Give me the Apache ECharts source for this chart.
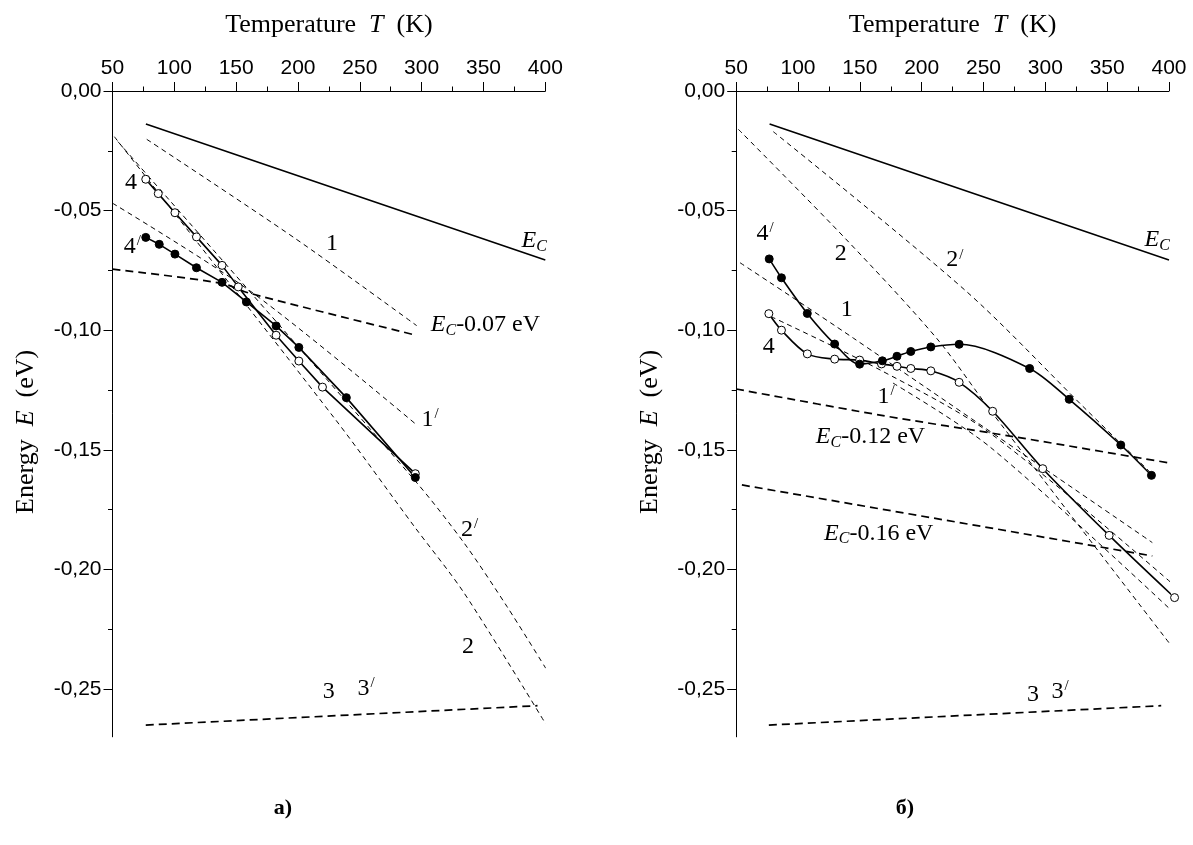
<!DOCTYPE html>
<html>
<head>
<meta charset="utf-8">
<script src="https://cdn.jsdelivr.net/npm/echarts@6.0.0/dist/echarts.min.js"></script>
<style>
html, body { margin: 0; padding: 0; background: #fff; }
#chart { width: 1193px; height: 845px; }
</style>
</head>
<body>
<div id="chart"></div>
<script>
// conduction band edge, same in both panels
const ecLine = [[77, -0.0138], [400, -0.0707]]

// panel a)
const leftOpen4 = [[76.9, -0.0369], [87.0, -0.0429], [100.5, -0.0509], [117.9, -0.0610], [138.6, -0.0729],
    [151.7, -0.0819], [182.3, -0.1021], [200.7, -0.1129], [219.8, -0.1238], [294.9, -0.1600]]
const leftFilled4 = [[76.9, -0.0612], [87.8, -0.0641], [100.5, -0.0682], [117.9, -0.0739], [138.6, -0.0800],
    [158.3, -0.0882], [182.3, -0.0982], [200.7, -0.1072], [239.1, -0.1282], [294.9, -0.1616]]
const leftLine1 = [[77.7, -0.0202], [197.6, -0.0616], [296, -0.0981]]
const leftLine1p = [[50, -0.0469], [163.9, -0.0846], [296, -0.1396]]
const leftLine2 = [[51.5, -0.0191], [230.5, -0.1375], [294.1, -0.1821], [334.5, -0.2100], [400.3, -0.2646]]
const leftLine2p = [[54.4, -0.0212], [294.1, -0.1626], [334.5, -0.1891], [369.1, -0.2156], [400.3, -0.2413]]
const leftLine3 = [[76.9, -0.2651], [393.7, -0.2570]]
const leftEc007 = [[50, -0.0745], [138.1, -0.0804], [161.2, -0.0846], [295.4, -0.1021]]

// panel б)
const rightFilled4 = [[76.7, -0.0702], [86.6, -0.0781], [107.5, -0.0930], [129.6, -0.1058], [149.8, -0.1142],
    [168.2, -0.1128], [180.0, -0.1109], [191.2, -0.1089], [207.4, -0.1070], [230.3, -0.1059],
    [287.3, -0.1160], [319.3, -0.1289], [361.0, -0.1480], [385.8, -0.1607]]
const rightOpen4 = [[76.4, -0.0931], [86.6, -0.1000], [107.5, -0.1099], [129.6, -0.1121], [149.8, -0.1125],
    [167.5, -0.1141], [180.0, -0.1151], [191.2, -0.1160], [207.4, -0.1170], [230.3, -0.1218],
    [257.4, -0.1339], [297.9, -0.1579], [351.6, -0.1858], [404.5, -0.2118]]
const rightLine1 = [[53.1, -0.0718], [144.7, -0.1033], [386.5, -0.1888]]
const rightLine1p = [[78.1, -0.0943], [166.3, -0.1166], [255.2, -0.1430], [404.5, -0.2068]]
const rightLineX = [[176.8, -0.1221], [255.2, -0.1488], [404.5, -0.2184]]
const rightLine2 = [[51.7, -0.0160], [139.4, -0.0623], [212.1, -0.1034], [255.2, -0.1333], [404.5, -0.2337]]
const rightLine2p = [[80.0, -0.0170], [236.4, -0.0839], [333.4, -0.1334], [384.6, -0.1593]]
const rightLine3 = [[76.4, -0.2651], [393.7, -0.2570]]
const rightEc012 = [[50, -0.1246], [166.3, -0.1355], [274.1, -0.1445], [404.5, -0.1559]]
const rightEc016 = [[54.6, -0.1647], [386.5, -0.1944]]

// axis ticks
const energyTicks = [0, -0.05, -0.10, -0.15, -0.20, -0.25]
const energyMinor = [-0.025, -0.075, -0.125, -0.175, -0.225]

// curve labels: T, E, text
const leftLabels = [
    [65.0, -0.0385, '{n|4}'],
    [66.0, -0.0651, '{n|4}{p|/}'],
    [227.5, -0.0637, '{n|1}'],
    [351.6, -0.0978, '{i|E}{s|C}{n|-0.07 eV}'],
    [306.8, -0.1375, '{n|1}{p|/}'],
    [391.0, -0.0627, '{i|E}{s|C}'],
    [338.8, -0.1835, '{n|2}{p|/}'],
    [337.4, -0.2323, '{n|2}'],
    [224.8, -0.2511, '{n|3}'],
    [255.0, -0.2497, '{n|3}{p|/}'],
]
const rightLabels = [
    [73.3, -0.0595, '{n|4}{p|/}'],
    [134.5, -0.0679, '{n|2}'],
    [226.9, -0.0707, '{n|2}{p|/}'],
    [139.4, -0.0915, '{n|1}'],
    [76.4, -0.1069, '{n|4}'],
    [171.3, -0.1278, '{n|1}{p|/}'],
    [158.6, -0.1445, '{i|E}{s|C}{n|-0.12 eV}'],
    [165.3, -0.1849, '{i|E}{s|C}{n|-0.16 eV}'],
    [290.0, -0.2525, '{n|3}'],
    [311.9, -0.2512, '{n|3}{p|/}'],
    [390.5, -0.0623, '{i|E}{s|C}'],
]

const serif = '"Liberation Serif", "Times New Roman", serif'
const sans = '"Liberation Sans", Arial, sans-serif'
const black = '#000'

const gridA = { left: 112.5, top: 91, width: 432.8, height: 645.8 }
const gridB = { left: 736.2, top: 91, width: 432.8, height: 645.8 }

const plain = { color: black, textBorderWidth: 0, textShadowBlur: 0 }
const rich = {
    n: Object.assign({ fontFamily: serif, fontSize: 24 }, plain),
    i: Object.assign({ fontFamily: serif, fontSize: 24, fontStyle: 'italic' }, plain),
    s: Object.assign({ fontFamily: serif, fontSize: 16, fontStyle: 'italic', padding: [12, 0, 0, 0] }, plain),
    p: Object.assign({ fontFamily: serif, fontSize: 15, padding: [0, 0, 11, 1] }, plain),
}

const dash = {
    solid: { width: 1.6, type: 'solid' },
    thin: { width: 1, type: [5, 4] },
    thick: { width: 1.7, type: [8, 5] },
}

const tempAxis = function (grid, visible) {
    return {
        type: 'value', gridIndex: grid, position: 'top', show: visible,
        min: 50, max: 400, interval: 50,
        name: visible ? '{t|Temperature  }{it|T}{t|  (K)}' : '',
        nameLocation: 'middle', nameGap: 53,
        nameTextStyle: {
            rich: {
                t: { fontFamily: serif, fontSize: 26, color: black },
                it: { fontFamily: serif, fontSize: 26, fontStyle: 'italic', color: black },
            }
        },
        axisLine: { show: true, onZero: false, lineStyle: { color: black, width: 1 } },
        axisTick: { show: true, inside: false, length: 9, lineStyle: { color: black } },
        minorTick: { show: true, splitNumber: 2, length: 4.5, lineStyle: { color: black } },
        axisLabel: { fontFamily: sans, fontSize: 21, color: black, margin: 12 },
        splitLine: { show: false },
        minorSplitLine: { show: false },
    }
}

const energyAxis = function (grid) {
    return {
        type: 'value', gridIndex: grid, position: 'left',
        min: -0.27, max: 0,
        name: '{t|Energy  }{it|E}{t|  (eV)}',
        nameLocation: 'middle', nameGap: 73,
        nameTextStyle: {
            padding: [0, 36, 0, 0],
            rich: {
                t: { fontFamily: serif, fontSize: 26, color: black },
                it: { fontFamily: serif, fontSize: 26, fontStyle: 'italic', color: black },
            }
        },
        axisLine: { show: true, onZero: false, lineStyle: { color: black, width: 1 } },
        axisTick: { show: true, length: 9, customValues: energyTicks, lineStyle: { color: black } },
        axisLabel: {
            customValues: energyTicks, fontFamily: sans, fontSize: 21, color: black, margin: 11,
            formatter: v => v.toFixed(2).replace('.', ','),
        },
        splitLine: { show: false },
    }
}

const minorEnergyAxis = function (grid) {
    return {
        type: 'value', gridIndex: grid, position: 'left',
        min: -0.27, max: 0,
        axisLine: { show: false },
        axisTick: { show: true, length: 4.5, customValues: energyMinor, lineStyle: { color: black } },
        axisLabel: { show: false },
        splitLine: { show: false },
    }
}

const curve = function (grid, data, kind, smooth) {
    return {
        type: 'line', xAxisIndex: grid, yAxisIndex: grid, data: data,
        symbol: 'none', smooth: smooth || false, clip: false, silent: true, z: 2,
        lineStyle: Object.assign({ color: black }, dash[kind]),
    }
}

const points = function (grid, data, filled, smooth) {
    return {
        type: 'line', xAxisIndex: grid, yAxisIndex: grid, data: data,
        symbol: 'circle', symbolSize: 8, showAllSymbol: true,
        smooth: smooth || false, clip: false, silent: true, z: 5,
        lineStyle: { color: black, width: 1.6 },
        itemStyle: { color: filled ? black : '#fff', borderColor: black, borderWidth: 1, opacity: 1 },
    }
}

const labels = function (grid, items) {
    return {
        type: 'scatter', xAxisIndex: grid, yAxisIndex: grid, symbolSize: 0,
        silent: true, clip: false, z: 6,
        itemStyle: { color: black, opacity: 1 },
        data: items.map(d => ({ value: [d[0], d[1]], name: d[2] })),
        label: Object.assign({ show: true, position: 'inside', formatter: p => p.name, rich: rich }, plain),
    }
}

const myChart = echarts.init(document.getElementById('chart'))

const option = {
    animation: false,
    backgroundColor: '#fff',
    grid: [gridA, gridB, gridA, gridB],
    xAxis: [tempAxis(0, true), tempAxis(1, true), tempAxis(2, false), tempAxis(3, false)],
    yAxis: [energyAxis(0), energyAxis(1), minorEnergyAxis(2), minorEnergyAxis(3)],
    series: [
        curve(0, ecLine, 'solid'),
        curve(0, leftLine1, 'thin', 0.3),
        curve(0, leftLine1p, 'thin', 0.3),
        curve(0, leftLine2, 'thin', 0.3),
        curve(0, leftLine2p, 'thin', 0.3),
        curve(0, leftLine3, 'thick'),
        curve(0, leftEc007, 'thick', 0.3),
        points(0, leftOpen4, false),
        points(0, leftFilled4, true),
        labels(0, leftLabels),

        curve(1, ecLine, 'solid'),
        curve(1, rightLine1, 'thin', 0.3),
        curve(1, rightLine1p, 'thin', 0.3),
        curve(1, rightLineX, 'thin', 0.3),
        curve(1, rightLine2, 'thin', 0.3),
        curve(1, rightLine2p, 'thin', 0.3),
        curve(1, rightLine3, 'thick'),
        curve(1, rightEc012, 'thick', 0.3),
        curve(1, rightEc016, 'thick'),
        points(1, rightOpen4, false, 0.3),
        points(1, rightFilled4, true, 0.3),
        labels(1, rightLabels),
    ],
    graphic: [
        {
            type: 'text', x: 283, y: 808,
            style: { text: 'а)', font: 'bold 22px "Liberation Serif"', fill: black,
                align: 'center', verticalAlign: 'middle', textAlign: 'center', textVerticalAlign: 'middle' }
        },
        {
            type: 'text', x: 905, y: 808,
            style: { text: 'б)', font: 'bold 22px "Liberation Serif"', fill: black,
                align: 'center', verticalAlign: 'middle', textAlign: 'center', textVerticalAlign: 'middle' }
        },
    ],
}

myChart.setOption(option)
</script>
</body>
</html>
